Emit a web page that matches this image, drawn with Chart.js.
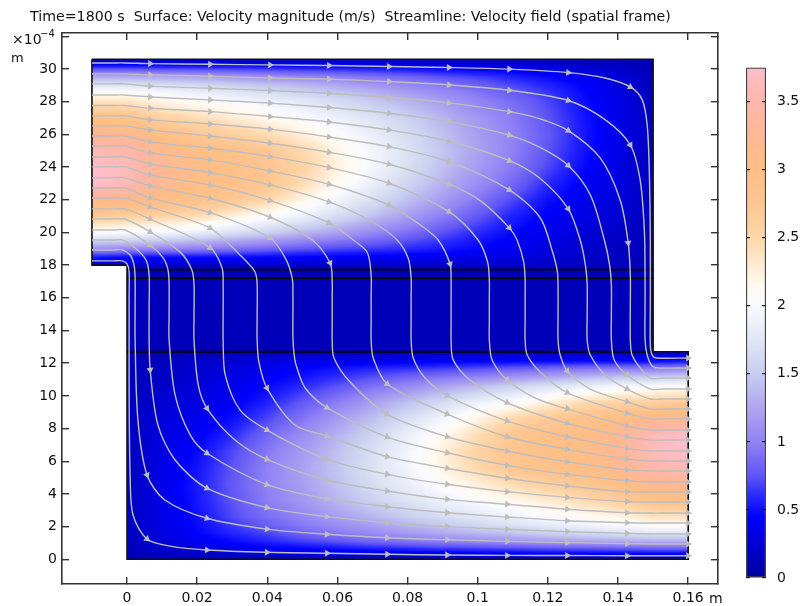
<!DOCTYPE html>
<html>
<head>
<meta charset="utf-8">
<title>Velocity magnitude</title>
<script src="https://cdn.jsdelivr.net/npm/chart.js@4/dist/chart.umd.min.js"></script>
<style>
  html, body { margin: 0; padding: 0; background: #fff; }
  canvas { position: absolute; top: 0; }
  #main { left: 0; }
  #bar { left: 730px; }
</style>
</head>
<body>
<canvas id="main" width="801" height="606"></canvas>
<canvas id="bar" width="71" height="606"></canvas>
<script>
const titleText = 'Time=1800 s  Surface: Velocity magnitude (m/s)  Streamline: Velocity field (spatial frame)'

// speed field, m/s. columns are x, rows are y (in 1e-4 m)
const fieldX = [-0.01, 0, 0.01, 0.02, 0.03, 0.04, 0.05, 0.06, 0.07, 0.08, 0.09, 0.1, 0.11, 0.12, 0.13, 0.14, 0.15, 0.16]
const fieldY = [0, 0.3, 0.6, 1.1, 1.6, 2.1, 2.6, 3.6, 4.6, 5.6, 6.6, 7.6, 8.6, 9.6, 10.6, 11.1, 11.6, 12.1, 12.6, 13, 17.7, 18, 18.5, 19, 19.5, 20, 21, 22, 23, 24, 25, 26, 27, 28, 28.5, 29, 29.5, 30, 30.3, 30.6]
const fieldSpeed = [
  [.1,.1,.1,.1,.1,.1,.1,.1,.1,.1,.1,.1,.1,.1,.1,.1,.1,.1],
  [.1,.1,.14,.18,.22,.25,.28,.3,.33,.35,.36,.38,.38,.4,.4,.4,.4,.4],
  [.1,.12,.2,.27,.34,.4,.44,.48,.52,.56,.6,.62,.65,.68,.7,.72,.75,.75],
  [.1,.13,.27,.38,.48,.58,.67,.75,.85,.92,1,1.05,1.12,1.18,1.23,1.27,1.3,1.3],
  [.1,.14,.3,.45,.58,.7,.83,.95,1.05,1.17,1.28,1.37,1.45,1.55,1.63,1.7,1.75,1.75],
  [.1,.14,.32,.48,.65,.8,.95,1.08,1.22,1.35,1.48,1.6,1.7,1.8,1.9,2,2.1,2.1],
  [.1,.14,.33,.5,.7,.88,1.03,1.2,1.35,1.5,1.65,1.78,1.9,2,2.1,2.2,2.38,2.38],
  [.1,.14,.34,.53,.75,.97,1.15,1.35,1.55,1.72,1.88,2.02,2.15,2.3,2.45,2.6,2.85,2.9],
  [.1,.14,.34,.54,.77,1,1.2,1.43,1.65,1.85,2.05,2.25,2.45,2.6,2.75,2.95,3.2,3.25],
  [.1,.14,.33,.52,.75,1,1.22,1.45,1.7,1.93,2.2,2.5,2.75,2.9,3,3.15,3.5,3.6],
  [.1,.14,.32,.48,.7,.95,1.18,1.42,1.68,1.93,2.25,2.55,2.8,2.95,3.05,3.22,3.62,3.75],
  [.1,.14,.3,.42,.6,.85,1.08,1.33,1.58,1.85,2.12,2.45,2.75,2.92,3.02,3.2,3.6,3.75],
  [.1,.14,.27,.37,.5,.7,.93,1.18,1.42,1.68,1.93,2.2,2.5,2.7,2.88,3,3.15,3.25],
  [.1,.13,.24,.32,.42,.57,.77,.98,1.2,1.42,1.65,1.88,2.05,2.25,2.45,2.55,2.6,2.7],
  [.1,.13,.2,.27,.36,.47,.6,.74,.9,1.05,1.22,1.38,1.55,1.7,1.85,1.95,2,2.05],
  [.1,.12,.18,.24,.33,.42,.52,.63,.74,.85,.95,1.05,1.17,1.28,1.4,1.5,1.55,1.6],
  [.1,.12,.17,.22,.3,.38,.46,.54,.6,.65,.7,.76,.83,.9,.98,1.02,1.05,1.1],
  [.1,.11,.15,.2,.25,.3,.35,.38,.4,.42,.44,.46,.48,.5,.5,.5,.5,.55],
  [.1,.1,.12,.14,.16,.18,.2,.2,.2,.2,.2,.2,.2,.2,.2,.2,.22,.3],
  [.12,.12,.12,.12,.12,.12,.12,.12,.12,.12,.12,.12,.12,.12,.12,.12,.12,.12],
  [.12,.12,.12,.12,.12,.12,.12,.12,.12,.12,.12,.12,.12,.12,.12,.12,.12,.12],
  [.3,.22,.2,.2,.2,.2,.2,.2,.2,.2,.2,.2,.2,.18,.16,.14,.12,.1],
  [.55,.5,.5,.5,.5,.48,.46,.44,.42,.4,.38,.35,.3,.25,.2,.15,.11,.11],
  [1.1,1.05,1.02,.98,.9,.83,.76,.7,.65,.6,.54,.46,.38,.3,.22,.17,.12,.12],
  [1.6,1.55,1.5,1.4,1.28,1.17,1.05,.95,.85,.74,.63,.52,.42,.33,.24,.18,.12,.12],
  [2.05,2,1.95,1.85,1.7,1.55,1.38,1.22,1.05,.9,.74,.6,.47,.36,.27,.2,.13,.13],
  [2.7,2.6,2.55,2.45,2.25,2.05,1.88,1.65,1.42,1.2,.98,.77,.57,.42,.32,.24,.13,.13],
  [3.25,3.15,3,2.88,2.7,2.5,2.2,1.93,1.68,1.42,1.18,.93,.7,.5,.37,.27,.14,.14],
  [3.75,3.6,3.2,3.02,2.92,2.75,2.45,2.12,1.85,1.58,1.33,1.08,.85,.6,.42,.3,.14,.14],
  [3.75,3.62,3.22,3.05,2.95,2.8,2.55,2.25,1.93,1.68,1.42,1.18,.95,.7,.48,.32,.14,.14],
  [3.6,3.5,3.15,3,2.9,2.75,2.5,2.2,1.93,1.7,1.45,1.22,1,.75,.52,.33,.14,.14],
  [3.25,3.2,2.95,2.75,2.6,2.45,2.25,2.05,1.85,1.65,1.43,1.2,1,.77,.54,.34,.14,.14],
  [2.9,2.85,2.6,2.45,2.3,2.15,2.02,1.88,1.72,1.55,1.35,1.15,.97,.75,.53,.34,.14,.14],
  [2.38,2.38,2.2,2.1,2,1.9,1.78,1.65,1.5,1.35,1.2,1.03,.88,.7,.5,.33,.14,.14],
  [2.1,2.1,2,1.9,1.8,1.7,1.6,1.48,1.35,1.22,1.08,.95,.8,.65,.48,.32,.14,.14],
  [1.75,1.75,1.7,1.63,1.55,1.45,1.37,1.28,1.17,1.05,.95,.83,.7,.58,.45,.3,.14,.14],
  [1.3,1.3,1.27,1.23,1.18,1.12,1.05,1,.92,.85,.75,.67,.58,.48,.38,.27,.13,.13],
  [.75,.75,.72,.7,.68,.65,.62,.6,.56,.52,.48,.44,.4,.34,.27,.2,.12,.12],
  [.4,.4,.4,.4,.4,.38,.38,.36,.35,.33,.3,.28,.25,.22,.18,.14,.1,.1],
  [.1,.1,.1,.1,.1,.1,.1,.1,.1,.1,.1,.1,.1,.1,.1,.1,.1,.1]
]

// colour table of the colour bar
const colorStops = [0, 0.45, 0.6, 0.75, 1, 1.25, 1.5, 1.75, 2, 2.15, 2.3, 2.5, 2.75, 3, 3.25, 3.5, 3.75]
const colorValues = [
  [0,0,160], [0,0,255], [40,40,255], [95,85,245], [145,130,245], [175,165,240], [200,205,240], [225,230,245],
  [250,250,255], [255,250,240], [255,235,210], [255,215,170], [255,198,146], [255,190,133], [255,183,150], [255,183,172], [255,190,203]
]

// outline of the geometry and the inner boundaries
const domainX = [-0.01, 0.15, 0.15, 0.16, 0.16, 0, 0, -0.01, -0.01]
const domainY = [30.6, 30.6, 12.7, 12.7, 0, 0, 18, 18, 30.6]
const innerLineY = [17.73, 17.2, 12.7]

// streamlines, [x, y, 1 when an arrow head sits there]
const stream00 = [[-.01,18.26],[-.004,18.26],[-.0014,18.26],[0,18.07],[.0006,17.58],[.0006,16],[.0006,14],[.0006,10],[.0009,5],[.0017,2.71],[.0057,1.24,1],[.0123,.81],[.0228,.57,1],[.0399,.43,1],[.057,.37,1],[.0742,.31,1],[.0913,.26,1],[.1084,.24,1],[.1255,.23,1],[.1426,.22,1],[.16,.22,1]]
const stream01 = [[-.01,18.93],[-.004,18.93],[-.0014,18.93],[.0009,18.62],[.002,18.01],[.0023,17.22],[.0023,15.5],[.0023,13.42],[.0031,8.53],[.0057,5.16,1],[.0108,3.63],[.0228,2.51,1],[.0399,1.85,1],[.057,1.53,1],[.0742,1.32,1],[.0913,1.2,1],[.1084,1.1,1],[.1255,1.02,1],[.1426,.96,1],[.1492,.94],[.153,.94],[.16,.94,1]]
const stream02 = [[-.01,19.54],[-.004,19.54],[-.0014,19.54],[.0023,19.05],[.0054,18.32],[.0063,17.4],[.0063,15.5],[.0063,13.42],[.0066,11.59,1],[.0088,8.22],[.0137,6.08],[.0228,4.35,1],[.0399,3.16,1],[.057,2.61,1],[.0742,2.24,1],[.0913,2,1],[.1084,1.84,1],[.1255,1.69,1],[.1426,1.59,1],[.1492,1.55],[.153,1.55],[.16,1.55,1]]
const stream03 = [[-.01,20.15],[-.004,20.15],[-.0006,20.15],[.0066,19.23,1],[.0103,18.44],[.0117,17.7],[.012,16.79],[.012,15],[.012,13.42],[.0137,10.06],[.018,7.61],[.0228,6.49,1],[.0399,4.57,1],[.057,3.71,1],[.0742,3.22,1],[.0913,2.85,1],[.1084,2.59,1],[.1255,2.36,1],[.1426,2.24,1],[.1492,2.22],[.153,2.22],[.16,2.22,1]]
const stream04 = [[-.01,20.82],[-.004,20.82],[-.0006,20.82],[.0066,20.03,1],[.0151,18.81],[.0185,17.7],[.0191,16.79],[.0191,15],[.0191,13.42],[.0203,10.67],[.0228,9.24,1],[.0308,7.3],[.0399,6.12,1],[.057,4.85,1],[.0742,4.18,1],[.0913,3.67,1],[.1084,3.37,1],[.1255,3.06,1],[.1426,2.85,1],[.1492,2.83],[.153,2.83],[.16,2.83,1]]
const stream05 = [[-.01,21.44],[-.004,21.44],[-.0006,21.44],[.0066,20.82,1],[.0237,19.07,1],[.0271,17.83],[.0274,16.79],[.0274,15],[.0274,13.42],[.028,11.28],[.0322,9.14],[.0399,7.91,1],[.057,6.12,1],[.0742,5.2,1],[.0913,4.59,1],[.1084,4.14,1],[.1255,3.79,1],[.1426,3.53,1],[.1492,3.51],[.153,3.51],[.16,3.51,1]]
const stream06 = [[-.01,22.11],[-.004,22.11],[-.0006,22.11],[.0066,21.56,1],[.0237,20.26,1],[.0322,18.62],[.0365,17.58],[.0371,16.79],[.0371,15],[.0371,13.42],[.0376,12.07],[.0399,10.48,1],[.0479,8.22],[.057,7.55,1],[.0742,6.28,1],[.0913,5.57,1],[.1084,4.96,1],[.1255,4.49,1],[.1426,4.14,1],[.1492,4.12],[.153,4.12],[.16,4.12,1]]
const stream07 = [[-.01,22.72],[-.004,22.72],[-.0006,22.72],[.0066,22.11,1],[.0237,21.21,1],[.0408,19.66,1],[.0451,18.44],[.0471,17.2],[.0473,16.2],[.0473,15],[.0473,13.6],[.0476,12.6],[.0482,11.89],[.0508,10.48],[.057,9.28,1],[.0742,7.48,1],[.0913,6.52,1],[.1084,5.75,1],[.1255,5.2,1],[.1426,4.81,1],[.1492,4.73],[.153,4.73],[.16,4.73,1]]
const stream08 = [[-.01,23.34],[-.004,23.34],[-.0006,23.34],[.0066,22.85,1],[.0237,22.09,1],[.0408,20.93,1],[.0528,19.54],[.0579,18.13,1],[.0585,17.09],[.0585,16],[.0585,14.5],[.0585,13.42],[.059,12.32],[.0636,10.85],[.0742,8.87,1],[.0913,7.5,1],[.1084,6.63,1],[.1255,5.97,1],[.1426,5.47,1],[.1492,5.4],[.153,5.4],[.16,5.4,1]]
const stream09 = [[-.01,24.01],[-.004,24.01],[-.0006,24.01],[.0066,23.52,1],[.0237,22.91,1],[.0408,21.95,1],[.0576,20.58,1],[.0645,19.54],[.0685,18.77],[.0696,17.4],[.0696,16],[.0696,14.5],[.0696,13.42],[.0702,12.32],[.0742,10.73,1],[.0913,8.89,1],[.1084,7.5,1],[.1255,6.73,1],[.1426,6.14,1],[.1492,6.02],[.153,6.02],[.16,6.02,1]]
const stream10 = [[-.01,24.62],[-.004,24.62],[-.0006,24.62],[.0066,24.19,1],[.0237,23.66,1],[.0408,22.91,1],[.0576,21.87,1],[.0695,20.7],[.077,19.54],[.0802,18.4],[.081,17.2],[.081,16],[.081,14.5],[.081,13.42],[.0816,12.32],[.085,11.09],[.0913,10.01,1],[.1084,8.46,1],[.1255,7.5,1],[.1426,6.79,1],[.1492,6.63],[.153,6.63],[.16,6.63,1]]
const stream11 = [[-.01,25.29],[-.004,25.29],[-.0006,25.29],[.0066,24.87,1],[.0237,24.44,1],[.0408,23.76,1],[.0576,22.95,1],[.0747,21.68,1],[.0836,20.46],[.0887,19.54],[.0921,18.07,1],[.0924,17.09],[.0924,16],[.0924,14.5],[.0924,13.42],[.093,12.2],[.0978,10.97],[.1084,9.58,1],[.1255,8.32,1],[.1426,7.5,1],[.1492,7.3],[.153,7.3],[.16,7.3,1]]
const stream12 = [[-.01,25.9],[-.004,25.9],[-.0006,25.9],[.0066,25.54,1],[.0237,25.15,1],[.0408,24.64,1],[.0576,23.97,1],[.0747,23.01,1],[.0918,21.27,1],[.1001,19.54],[.1028,18.2],[.1033,17.09],[.1033,16],[.1033,14.5],[.1033,13.42],[.1041,12.2],[.1084,10.97,1],[.1164,9.87],[.1255,9.2,1],[.1426,8.16,1],[.1492,7.91],[.153,7.91],[.16,7.91,1]]
const stream13 = [[-.01,26.52],[-.004,26.52],[-.0006,26.52],[.0066,26.27,1],[.0237,25.9,1],[.0408,25.46,1],[.0576,24.91,1],[.0747,24.17,1],[.0918,22.95,1],[.101,21.9],[.109,20.28,1],[.1112,19.54],[.1131,18.2],[.1135,17.09],[.1135,16],[.1135,14.5],[.1135,13.42],[.1141,12.5],[.1178,11.46],[.1255,10.2,1],[.1426,8.94,1],[.1492,8.59],[.153,8.59],[.16,8.59,1]]
const stream14 = [[-.01,27.13],[-.004,27.13],[-.0006,27.13],[.0066,26.89,1],[.0237,26.64,1],[.0408,26.32,1],[.0576,25.84,1],[.0747,25.25,1],[.0918,24.33,1],[.109,22.6,1],[.1178,20.9],[.1212,18.9],[.1227,17.6],[.1229,16.5],[.1229,15],[.1229,13.42],[.1235,12.5],[.1255,11.52,1],[.1321,10.42],[.1426,9.64,1],[.1492,9.2],[.153,9.2],[.16,9.2,1]]
const stream15 = [[-.01,27.77],[-.004,27.77],[-.0006,27.77],[.0066,27.6,1],[.0237,27.39,1],[.0408,27.09,1],[.0576,26.76,1],[.0747,26.27,1],[.0918,25.58,1],[.109,24.39,1],[.1178,23.3],[.1258,21.44,1],[.1292,19.54],[.1307,18],[.1312,16.8],[.1312,15],[.1312,13.42],[.1321,12.5],[.1363,11.28],[.1426,10.42,1],[.1492,9.81],[.153,9.81],[.16,9.81,1]]
const stream16 = [[-.01,28.41],[-.004,28.41],[-.0006,28.41],[.0066,28.29,1],[.0237,28.11,1],[.0408,27.91,1],[.0576,27.64,1],[.0747,27.29,1],[.0918,26.78,1],[.109,25.95,1],[.1178,25.2],[.1258,24.09,1],[.1321,22.29],[.1361,19.54],[.1376,18],[.1381,16.8],[.1381,15],[.1381,13.42],[.1389,12.2],[.1426,11.28,1],[.1492,10.42],[.153,10.42],[.16,10.42,1]]
const stream17 = [[-.01,29.09],[-.004,29.09],[-.0006,29.09],[.0066,28.95,1],[.0237,28.82,1],[.0408,28.68,1],[.0576,28.52,1],[.0747,28.27,1],[.0918,27.93,1],[.109,27.39,1],[.1178,26.95],[.1258,26.23,1],[.1349,24.56],[.1406,21.99],[.1429,19.36,1],[.1435,17.4],[.1435,15.5],[.1435,13.42],[.144,12.5],[.1463,11.71],[.1492,11.09],[.153,11.09],[.16,11.09,1]]
const stream18 = [[-.01,29.7],[-.004,29.7],[-.0006,29.7],[.0066,29.64,1],[.0237,29.56,1],[.0408,29.45,1],[.0576,29.38,1],[.0747,29.23,1],[.0918,29.03,1],[.109,28.7,1],[.1258,28.07,1],[.1363,26.9],[.1435,25.35,1],[.1463,23.21],[.1475,20.15],[.1477,17.4],[.1477,15.5],[.1477,13.42],[.1483,12.5],[.1497,11.83],[.1515,11.71],[.16,11.71,1]]
const stream19 = [[-.01,30.37],[-.004,30.37],[-.0006,30.37],[.0066,30.33,1],[.0237,30.29,1],[.0408,30.25,1],[.0576,30.21,1],[.0747,30.15,1],[.0918,30.09,1],[.109,29.99,1],[.1258,29.78,1],[.1363,29.45],[.1435,28.9,1],[.1469,28.11],[.1483,26.58],[.1489,23.83],[.1492,19.54],[.1492,15.5],[.1492,13.11],[.1497,12.5],[.1509,12.32],[.16,12.32,1]]
const streamlines = [stream00, stream01, stream02, stream03, stream04, stream05, stream06, stream07, stream08, stream09,
  stream10, stream11, stream12, stream13, stream14, stream15, stream16, stream17, stream18, stream19]

const fontFamily = '"DejaVu Sans", sans-serif'
const axisColor = '#333'
const streamColor = '#bdbdbd'

const speedToColor = (v) => {
  let i = 0
  while (i < colorStops.length - 2 && v > colorStops[i + 1]) i++
  const t = Math.max(0, Math.min(1, (v - colorStops[i]) / (colorStops[i + 1] - colorStops[i])))
  return colorValues[i].map((c, k) => c + (colorValues[i + 1][k] - c) * t)
}

const findCell = (list, v) => {
  let i = 0
  while (i < list.length - 2 && v > list[i + 1]) i++
  return i
}

const speedAt = (x, y) => {
  const i = findCell(fieldX, x)
  const j = findCell(fieldY, y)
  const tx = Math.max(0, Math.min(1, (x - fieldX[i]) / (fieldX[i + 1] - fieldX[i])))
  const ty = Math.max(0, Math.min(1, (y - fieldY[j]) / (fieldY[j + 1] - fieldY[j])))
  const low = fieldSpeed[j][i] * (1 - tx) + fieldSpeed[j][i + 1] * tx
  const high = fieldSpeed[j + 1][i] * (1 - tx) + fieldSpeed[j + 1][i + 1] * tx
  return low * (1 - ty) + high * ty
}

// paints the surface under the datasets, each pixel looked up through the scales
const surfacePlugin = {
  id: 'surface',
  afterLayout(chart) {
    chart.titleBlock.left = 30
  },
  beforeDatasetsDraw(chart) {
    const { ctx, scales, chartArea } = chart
    const w = Math.ceil(chartArea.width)
    const h = Math.ceil(chartArea.height)
    const off = document.createElement('canvas')
    off.width = w
    off.height = h
    const offCtx = off.getContext('2d')
    const img = offCtx.createImageData(w, h)
    for (let row = 0; row < h; row++) {
      const y = scales.y.getValueForPixel(chartArea.top + row + 0.5)
      for (let col = 0; col < w; col++) {
        const x = scales.x.getValueForPixel(chartArea.left + col + 0.5)
        const c = speedToColor(speedAt(x, y))
        const p = (row * w + col) * 4
        img.data[p] = c[0]
        img.data[p + 1] = c[1]
        img.data[p + 2] = c[2]
        img.data[p + 3] = 255
      }
    }
    offCtx.putImageData(img, 0, 0)
    ctx.save()
    ctx.beginPath()
    domainX.forEach((x, i) => {
      ctx.lineTo(scales.x.getPixelForValue(x), scales.y.getPixelForValue(domainY[i]))
    })
    ctx.closePath()
    ctx.clip()
    ctx.drawImage(off, chartArea.left, chartArea.top)
    ctx.restore()
  },
  afterDraw(chart) {
    const { ctx } = chart
    ctx.save()
    ctx.fillStyle = '#111'
    ctx.textBaseline = 'middle'
    ctx.textAlign = 'left'
    ctx.font = '14px ' + fontFamily
    ctx.fillText('×10', 12, 40)
    ctx.fillText('m', 709, 599)
    ctx.font = '10px ' + fontFamily
    ctx.fillText('−4', 40, 34)
    ctx.font = '13px ' + fontFamily
    ctx.fillText('m', 11, 59)
    ctx.restore()
  }
}

const arrowRotation = (ctx) => {
  const { x, y } = ctx.chart.scales
  const data = ctx.dataset.data
  const a = data[Math.max(0, ctx.dataIndex - 1)]
  const b = data[Math.min(data.length - 1, ctx.dataIndex + 1)]
  const dx = x.getPixelForValue(b.x) - x.getPixelForValue(a.x)
  const dy = y.getPixelForValue(b.y) - y.getPixelForValue(a.y)
  return Math.atan2(dx, -dy) * 180 / Math.PI
}

const streamSets = streamlines.map((line) => ({
  data: line.map(([x, y, arrow]) => ({ x, y, arrow })),
  showLine: true,
  tension: 0.3,
  borderColor: streamColor,
  borderWidth: 1.4,
  pointStyle: 'triangle',
  pointBackgroundColor: streamColor,
  pointBorderWidth: 0,
  pointRadius: (ctx) => (ctx.raw && ctx.raw.arrow ? 4 : 0),
  pointRotation: arrowRotation
}))

const innerSets = innerLineY.map((y) => ({
  data: [{ x: 0, y }, { x: 0.15, y }],
  showLine: true,
  borderColor: '#000',
  borderWidth: 1.8,
  pointRadius: 0
}))

const outlineSet = {
  data: domainX.map((x, i) => ({ x, y: domainY[i] })),
  showLine: true,
  borderColor: '#111',
  borderWidth: 1.6,
  pointRadius: 0
}

const tickFont = { family: fontFamily, size: 14 }
const inwardGrid = { drawOnChartArea: false, tickLength: -7, color: axisColor, lineWidth: 1.4 }
const axisBorder = { color: axisColor, width: 1.6 }

const xRange = { min: -0.01854, max: 0.1685 }
const yRange = { min: -1.51, max: 32.2 }

new Chart(document.getElementById('main'), {
  type: 'scatter',
  data: { datasets: [...streamSets, ...innerSets, outlineSet] },
  plugins: [surfacePlugin],
  options: {
    responsive: false,
    animation: false,
    events: [],
    layout: { padding: { right: 83 } },
    plugins: {
      legend: { display: false },
      tooltip: { enabled: false },
      title: {
        display: true,
        text: titleText,
        align: 'start',
        color: '#111',
        font: { family: fontFamily, size: 14.2, weight: 'normal' },
        padding: { top: 9, bottom: 7 }
      }
    },
    scales: {
      x: {
        type: 'linear', position: 'bottom', min: xRange.min, max: xRange.max,
        grid: inwardGrid, border: axisBorder,
        ticks: {
          stepSize: 0.02, includeBounds: false, autoSkip: false, maxRotation: 0, padding: 13,
          color: '#111', font: tickFont,
          callback: (v) => String(+v.toFixed(2))
        },
        afterFit: (s) => { s.height = 22 }
      },
      y: {
        type: 'linear', position: 'left', min: yRange.min, max: yRange.max,
        grid: inwardGrid, border: axisBorder,
        ticks: {
          stepSize: 2, includeBounds: false, autoSkip: false, padding: 12,
          color: '#111', font: tickFont,
          callback: (v) => (v > 30 ? '' : String(v))
        },
        afterFit: (s) => { s.width = 62 }
      },
      xTop: {
        type: 'linear', position: 'top', min: xRange.min, max: xRange.max,
        grid: inwardGrid, border: axisBorder,
        ticks: { stepSize: 0.02, includeBounds: false, autoSkip: false, display: false },
        afterFit: (s) => { s.height = 0 }
      },
      yRight: {
        type: 'linear', position: 'right', min: yRange.min, max: yRange.max,
        grid: inwardGrid, border: axisBorder,
        ticks: { stepSize: 2, includeBounds: false, autoSkip: false, display: false },
        afterFit: (s) => { s.width = 0 }
      }
    }
  }
})

// colour bar
const barGradient = (ctx) => {
  const { chartArea, scales } = ctx.chart
  if (!chartArea) return '#00f'
  const g = ctx.chart.ctx.createLinearGradient(0, scales.y.getPixelForValue(0), 0, scales.y.getPixelForValue(3.75))
  colorStops.forEach((s, i) => {
    g.addColorStop(s / 3.75, 'rgb(' + colorValues[i].join(',') + ')')
  })
  return g
}

const barGrid = { drawOnChartArea: false, tickLength: -4, color: '#222', lineWidth: 1.2, z: 1 }

new Chart(document.getElementById('bar'), {
  type: 'bar',
  data: {
    labels: ['speed'],
    datasets: [{
      data: [[0, 3.75]],
      backgroundColor: barGradient,
      borderColor: '#444',
      borderWidth: 1.5,
      borderSkipped: false,
      barPercentage: 1,
      categoryPercentage: 1
    }]
  },
  options: {
    responsive: false,
    animation: false,
    events: [],
    layout: { padding: { left: 16, top: 67.5, bottom: 28 } },
    plugins: { legend: { display: false }, tooltip: { enabled: false } },
    scales: {
      x: { display: false },
      y: {
        position: 'right', min: 0, max: 3.75,
        grid: barGrid, border: { display: false },
        ticks: {
          stepSize: 0.5, includeBounds: false, padding: 15,
          color: '#111', font: tickFont,
          callback: (v) => String(v)
        },
        afterFit: (s) => { s.width = 35 }
      },
      yLeft: {
        position: 'left', min: 0, max: 3.75,
        grid: barGrid, border: { display: false },
        ticks: { stepSize: 0.5, includeBounds: false, display: false },
        afterFit: (s) => { s.width = 0 }
      }
    }
  }
})
</script>
</body>
</html>
